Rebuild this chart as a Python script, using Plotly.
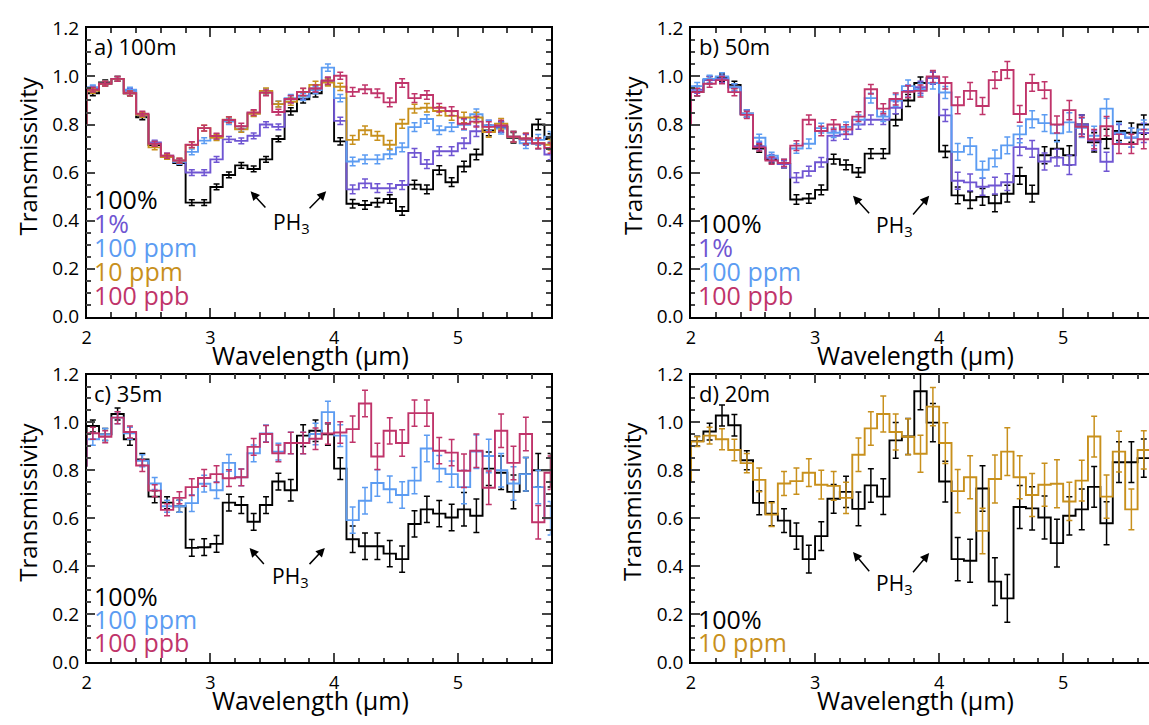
import plotly.graph_objects as go

# ---------------- data ----------------
wl = [1.95, 2.05, 2.15, 2.25, 2.35, 2.45, 2.55, 2.65, 2.75, 2.85, 2.95,
      3.05, 3.15, 3.25, 3.35, 3.45, 3.55, 3.65, 3.75, 3.85, 3.95,
      4.05, 4.15, 4.25, 4.35, 4.45, 4.55, 4.65, 4.75, 4.85, 4.95,
      5.05, 5.15, 5.25, 5.35, 5.45, 5.55, 5.65, 5.75]

# panel a) 100 m
a_100pct = [0.80, 0.93, 0.975, 0.99, 0.93, 0.83, 0.715, 0.665, 0.64, 0.475, 0.475,
            0.54, 0.59, 0.63, 0.615, 0.655, 0.74, 0.855, 0.905, 0.93, 0.98,
            0.73, 0.47, 0.465, 0.475, 0.49, 0.44, 0.55, 0.53, 0.61, 0.56,
            0.625, 0.675, 0.775, 0.79, 0.745, 0.74, 0.80, 0.74]
a_1pct = [0.80, 0.95, 0.97, 0.99, 0.94, 0.84, 0.725, 0.67, 0.645, 0.60, 0.60,
          0.655, 0.738, 0.732, 0.753, 0.80, 0.79, 0.905, 0.92, 0.95, 0.98,
          0.815, 0.53, 0.555, 0.535, 0.535, 0.548, 0.682, 0.635, 0.689, 0.689,
          0.722, 0.772, 0.796, 0.79, 0.749, 0.736, 0.72, 0.675]
a_100ppm = [0.80, 0.955, 0.97, 0.99, 0.945, 0.84, 0.72, 0.665, 0.645, 0.686, 0.733,
            0.749, 0.812, 0.783, 0.847, 0.937, 0.886, 0.91, 0.915, 0.943, 1.037,
            0.91, 0.646, 0.655, 0.655, 0.676, 0.705, 0.789, 0.823, 0.776, 0.789,
            0.799, 0.843, 0.796, 0.783, 0.749, 0.722, 0.736, 0.749]
a_10ppm = [0.80, 0.94, 0.97, 0.99, 0.93, 0.84, 0.705, 0.665, 0.65, 0.715, 0.785,
           0.745, 0.82, 0.78, 0.845, 0.94, 0.885, 0.895, 0.935, 0.965, 0.975,
           0.957, 0.736, 0.776, 0.753, 0.716, 0.803, 0.866, 0.87, 0.856, 0.836,
           0.829, 0.829, 0.769, 0.803, 0.749, 0.742, 0.722, 0.716]
a_100ppb = [0.80, 0.945, 0.97, 0.99, 0.93, 0.845, 0.72, 0.67, 0.65, 0.716, 0.785,
            0.752, 0.819, 0.793, 0.85, 0.932, 0.852, 0.906, 0.936, 0.95, 0.983,
            1.003, 0.936, 0.947, 0.93, 0.892, 0.973, 0.91, 0.923, 0.87, 0.856,
            0.803, 0.812, 0.79, 0.796, 0.749, 0.742, 0.722, 0.702]
a_err = [0.010, 0.010, 0.010, 0.010, 0.010, 0.010, 0.010, 0.010,
         0.012, 0.012, 0.012, 0.012, 0.012, 0.012, 0.012, 0.012,
         0.015, 0.015, 0.015, 0.015, 0.015,
         0.018, 0.018, 0.018, 0.018, 0.018, 0.018, 0.018, 0.018, 0.018,
         0.022, 0.022, 0.022, 0.022, 0.022, 0.022, 0.022, 0.022]

# panel b) 50 m
b_100pct = [0.80, 0.935, 0.985, 0.995, 0.965, 0.845, 0.70, 0.655, 0.635, 0.488, 0.492,
            0.528, 0.656, 0.632, 0.60, 0.679, 0.679, 0.82, 0.90, 0.973, 0.993,
            0.688, 0.505, 0.485, 0.499, 0.472, 0.512, 0.586, 0.512, 0.672, 0.699,
            0.672, 0.80, 0.726, 0.74, 0.773, 0.766, 0.80]
b_1pct = [0.80, 0.945, 0.985, 0.99, 0.955, 0.845, 0.71, 0.66, 0.635, 0.579, 0.606,
          0.643, 0.753, 0.759, 0.80, 0.82, 0.82, 0.87, 0.94, 0.955, 0.993,
          0.838, 0.566, 0.559, 0.541, 0.546, 0.56, 0.706, 0.699, 0.646, 0.662,
          0.632, 0.80, 0.733, 0.645, 0.76, 0.745, 0.765]
b_100ppm = [0.80, 0.96, 0.99, 1.0, 0.955, 0.845, 0.745, 0.67, 0.64, 0.70, 0.72,
            0.785, 0.766, 0.79, 0.82, 0.91, 0.833, 0.90, 0.96, 0.947, 0.973,
            0.933, 0.686, 0.71, 0.612, 0.659, 0.713, 0.759, 0.822, 0.806, 0.763,
            0.809, 0.786, 0.753, 0.866, 0.766, 0.746, 0.779]
b_100ppb = [0.80, 0.935, 0.97, 0.985, 0.935, 0.84, 0.705, 0.65, 0.64, 0.712, 0.82,
            0.773, 0.80, 0.779, 0.833, 0.947, 0.866, 0.906, 0.936, 0.94, 1.0,
            0.973, 0.88, 0.94, 0.877, 0.985, 1.027, 0.844, 0.973, 0.943, 0.80,
            0.86, 0.79, 0.739, 0.793, 0.719, 0.719, 0.739]
b_err = [0.015, 0.015, 0.015, 0.015, 0.015, 0.015, 0.015, 0.015,
         0.020, 0.020, 0.020, 0.020, 0.020, 0.020, 0.020, 0.020,
         0.025, 0.025, 0.025, 0.025, 0.025,
         0.035, 0.035, 0.035, 0.035, 0.035, 0.035, 0.035, 0.035, 0.035,
         0.040, 0.040, 0.040, 0.040, 0.040, 0.040, 0.040]

# panel c) 35 m
c_100pct = [0.82, 0.985, 0.95, 1.035, 0.93, 0.845, 0.69, 0.665, 0.65, 0.476, 0.479,
            0.493, 0.665, 0.655, 0.585, 0.655, 0.753, 0.717, 0.945, 0.965, 0.95,
            0.807, 0.512, 0.483, 0.483, 0.452, 0.429, 0.576, 0.637, 0.619, 0.603,
            0.637, 0.61, 0.807, 0.79, 0.71, 0.784, 0.80, 0.80]
c_100ppm = [0.82, 0.93, 0.95, 1.02, 0.955, 0.84, 0.745, 0.65, 0.65, 0.663, 0.744,
            0.717, 0.831, 0.771, 0.871, 0.954, 0.878, 0.914, 0.914, 0.952, 1.043,
            0.945, 0.592, 0.673, 0.747, 0.721, 0.697, 0.757, 0.891, 0.807, 0.784,
            0.73, 0.878, 0.86, 0.80, 0.745, 0.784, 0.73, 0.60]
c_100ppb = [0.82, 0.955, 0.94, 1.02, 0.96, 0.82, 0.715, 0.635, 0.685, 0.73, 0.768,
            0.784, 0.767, 0.771, 0.898, 0.952, 0.871, 0.914, 0.914, 0.932, 0.954,
            0.958, 0.972, 1.079, 0.858, 0.965, 0.914, 1.039, 1.039, 0.882, 0.874,
            0.798, 0.882, 0.727, 0.965, 0.831, 0.952, 0.583, 0.79]
c_err = [0.025, 0.025, 0.025, 0.025, 0.025, 0.025, 0.025, 0.025,
         0.035, 0.035, 0.035, 0.035, 0.035, 0.035, 0.035, 0.035,
         0.045, 0.045, 0.045, 0.045, 0.045,
         0.055, 0.055, 0.055, 0.055, 0.055, 0.055, 0.055, 0.055, 0.055,
         0.070, 0.070, 0.070, 0.070, 0.070, 0.070, 0.070, 0.070]

# panel d) 20 m
d_100pct = [0.76, 0.922, 0.962, 1.029, 0.988, 0.842, 0.664, 0.619, 0.59, 0.525, 0.429,
            0.525, 0.681, 0.71, 0.639, 0.737, 0.69, 0.925, 0.941, 1.13, 0.999,
            0.753, 0.429, 0.422, 0.724, 0.335, 0.265, 0.647, 0.641, 0.603, 0.496,
            0.61, 0.637, 0.731, 0.579, 0.834, 0.834, 0.851]
d_10ppm = [0.76, 0.92, 0.945, 0.93, 0.885, 0.83, 0.76, 0.615, 0.745, 0.755, 0.79,
           0.74, 0.735, 0.685, 0.865, 0.975, 1.035, 0.96, 0.94, 0.869, 1.066,
           0.914, 0.713, 0.771, 0.547, 0.764, 0.878, 0.771, 0.697, 0.74, 0.744,
           0.67, 0.757, 0.941, 0.69, 0.878, 0.637, 0.885]
d_err = [0.020, 0.035, 0.044, 0.045, 0.040, 0.050, 0.050, 0.050, 0.055, 0.058,
         0.060, 0.060, 0.065, 0.070, 0.070, 0.075, 0.075, 0.075, 0.077, 0.080,
         0.085, 0.090, 0.090, 0.095, 0.100, 0.100, 0.090, 0.090, 0.090, 0.100,
         0.080, 0.085, 0.085, 0.090, 0.085, 0.085, 0.080]

series_labels = ["100%", "1%", "100 ppm", "10 ppm", "100 ppb"]
panel_titles = ["a) 100m", "b) 50m", "c) 35m", "d) 20m"]
x_ticks = [2, 3, 4, 5]

COL = {"100%": "#000000", "1%": "#6f55d2", "100 ppm": "#5c9cf2",
       "10 ppm": "#c8901c", "100 ppb": "#c0346a"}

FONT = "Open Sans"
W, H = 1149, 725
BIN = 0.1

panels = [
    dict(name="a", xr=[2, 5.75], px=(82, 548), py=(16, 315),
         series=[("100%", a_100pct), ("1%", a_1pct), ("100 ppm", a_100ppm),
                 ("10 ppm", a_10ppm), ("100 ppb", a_100ppb)], err=a_err,
         leg_y=[0.49, 0.39, 0.29, 0.19, 0.09]),
    dict(name="b", xr=[2, 5.692], px=(689, 1149), py=(16, 315),
         series=[("100%", b_100pct), ("1%", b_1pct), ("100 ppm", b_100ppm),
                 ("100 ppb", b_100ppb)], err=b_err,
         leg_y=[0.39, 0.29, 0.19, 0.09]),
    dict(name="c", xr=[2, 5.75], px=(82, 548), py=(375, 673),
         series=[("100%", c_100pct), ("100 ppm", c_100ppm), ("100 ppb", c_100ppb)],
         err=c_err, leg_y=[0.275, 0.18, 0.085]),
    dict(name="d", xr=[2, 5.692], px=(689, 1149), py=(375, 673),
         series=[("100%", d_100pct), ("10 ppm", d_10ppm)], err=d_err,
         leg_y=[0.18, 0.085]),
]

fig = go.Figure()
annotations = []
layout = {}

for i, p in enumerate(panels):
    k = "" if i == 0 else str(i + 1)
    xa, ya = "x" + k, "y" + k
    full = p["px"][1] >= W
    layout["xaxis" + k] = dict(
        domain=[p["px"][0] / W, p["px"][1] / W], anchor=ya, range=p["xr"],
        tickvals=x_ticks, ticks="inside", ticklen=9, tickwidth=1.5,
        minor=dict(dtick=0.2, tick0=2, ticks="inside", ticklen=4.5, tickwidth=1.5),
        showline=True, linewidth=1.5, linecolor="black", mirror="ticks",
        showgrid=False, zeroline=False, tickfont=dict(family=FONT, size=18, color="black"),
        ticklabelstandoff=4)
    layout["yaxis" + k] = dict(
        domain=[1 - p["py"][1] / H, 1 - p["py"][0] / H], anchor=xa, range=[0, 1.2],
        dtick=0.2, tick0=0, tickformat=".1f", ticks="inside", ticklen=9, tickwidth=1.5,
        minor=dict(dtick=0.05, ticks="inside", ticklen=4.5, tickwidth=1.5),
        showline=True, linewidth=1.5, linecolor="black",
        mirror=False if full else "ticks",
        showgrid=False, zeroline=False, tickfont=dict(family=FONT, size=19, color="black"),
        ticklabelstandoff=2)

    for lbl, vals in p["series"]:
        n = len(vals)
        edges = [c - BIN / 2 for c in wl[:n]] + [wl[n - 1] + BIN / 2]
        col = COL[lbl]
        fig.add_trace(go.Scatter(x=edges, y=list(vals) + [vals[-1]], mode="lines",
                                 line=dict(color=col, width=1.9, shape="hv"),
                                 xaxis=xa, yaxis=ya, hoverinfo="skip"))
        fig.add_trace(go.Scatter(x=wl[1:n], y=vals[1:], mode="markers",
                                 marker=dict(size=1, color="rgba(0,0,0,0)"),
                                 error_y=dict(type="data", array=p["err"][:n - 1],
                                              color=col, thickness=1.5, width=3),
                                 xaxis=xa, yaxis=ya, hoverinfo="skip"))
    # legend texts
    for (lbl, _), ly in zip(p["series"], p["leg_y"]):
        annotations.append(dict(x=2.04, y=ly, xref=xa, yref=ya, text=lbl, showarrow=False,
                                xanchor="left", yanchor="middle",
                                font=dict(family=FONT, size=25, color=COL[lbl])))
    # panel title
    annotations.append(dict(x=2.045, y=1.125, xref=xa, yref=ya, text=panel_titles[i],
                            showarrow=False, xanchor="left", yanchor="middle",
                            font=dict(family=FONT, size=22, color="black")))
    # axis titles
    xc = (p["px"][0] + (p["px"][0] + 466)) / 2 - 8
    annotations.append(dict(x=xc / W, y=1 - (p["py"][1] + 40) / H, xref="paper", yref="paper",
                            text="Wavelength (\u03bcm)", showarrow=False,
                            xanchor="center", yanchor="middle",
                            font=dict(family=FONT, size=25, color="black")))
    annotations.append(dict(x=(p["px"][0] - 59) / W, y=1 - (p["py"][0] + 132) / H,
                            xref="paper", yref="paper", text="Transmissivity",
                            showarrow=False, textangle=-90, xanchor="center", yanchor="middle",
                            font=dict(family=FONT, size=24, color="black")))

# PH3 labels and arrows (data coords per panel)
ph3 = [
    ("x", "y", (3.655, 0.389), [((3.325, 0.522), (3.456, 0.448)), ((3.936, 0.522), (3.79, 0.445))]),
    ("x2", "y2", (3.637, 0.377), [((3.306, 0.504), (3.447, 0.424)), ((3.92, 0.504), (3.78, 0.419))]),
    ("x3", "y3", (3.65, 0.353), [((3.317, 0.476), (3.443, 0.402)), ((3.925, 0.476), (3.79, 0.402))]),
    ("x4", "y4", (3.637, 0.326), [((3.306, 0.459), (3.447, 0.372)), ((3.92, 0.455), (3.78, 0.368))]),
]
for xa, ya, (tx, ty), arrows in ph3:
    annotations.append(dict(x=tx, y=ty, xref=xa, yref=ya, text="PH<sub>3</sub>",
                            showarrow=False, xanchor="center", yanchor="middle",
                            font=dict(family=FONT, size=21, color="black")))
    for (hx, hy), (tx2, ty2) in arrows:
        annotations.append(dict(x=hx, y=hy, xref=xa, yref=ya, ax=tx2, ay=ty2,
                                axref=xa, ayref=ya, text="", showarrow=True,
                                arrowhead=2, arrowsize=1.2, arrowwidth=1.5,
                                arrowcolor="black"))

fig.update_layout(width=W, height=H, margin=dict(l=0, r=0, t=0, b=0),
                  plot_bgcolor="white", paper_bgcolor="white", showlegend=False,
                  annotations=annotations, **layout)

fig.write_html("out.html")
